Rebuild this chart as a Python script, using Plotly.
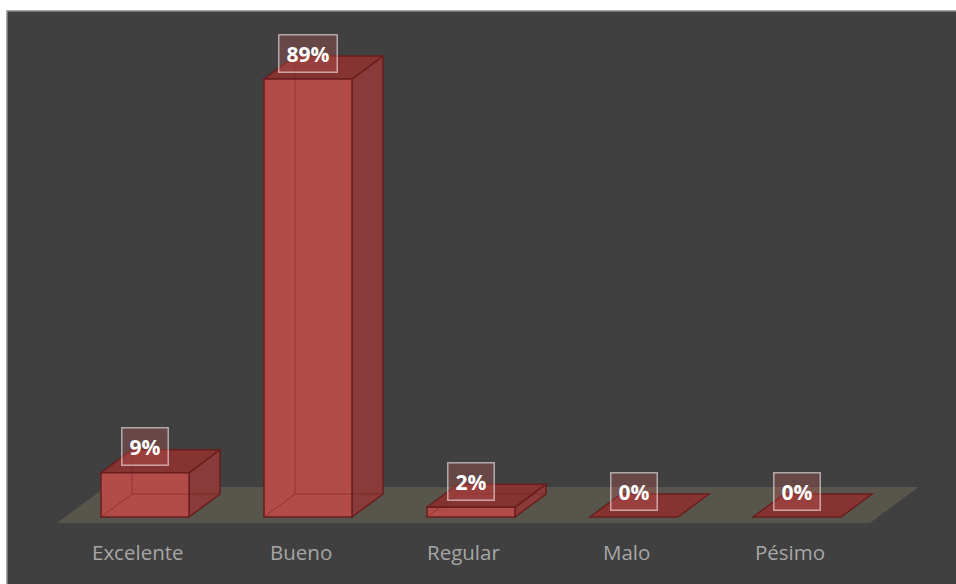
import plotly.graph_objects as go

categories = ["Excelente", "Bueno", "Regular", "Malo", "Pésimo"]
values = [9, 89, 2, 0, 0]
labels = ["9%", "89%", "2%", "0%", "0%"]

# style constants
HALF = 0.27      # half width of bar front (category units)
DX = 0.19        # depth offset x (category units)
DY = 4.67        # depth offset y (percent units)

FRONT = "rgb(178,76,72)"
SIDE = "rgb(138,58,56)"
TOP = "rgb(134,52,50)"
EDGE = "rgb(105,30,30)"
HIDDEN = "rgba(110,25,25,0.45)"

shapes = []

def path(pts):
    return "M " + " L ".join(f"{x},{y}" for x, y in pts) + " Z"

# floor
n = len(categories)
fl_front_y, fl_back_y = -1.22, 6.1
fl_x0, fl_x1 = -0.54, (n - 1) + 0.448
fl_shift = (fl_back_y - fl_front_y) / DY * DX
shapes.append(dict(type="path", xref="x", yref="y", layer="above",
                   path=path([(fl_x0, fl_front_y), (fl_x1, fl_front_y),
                              (fl_x1 + fl_shift, fl_back_y), (fl_x0 + fl_shift, fl_back_y)]),
                   fillcolor="rgb(88,85,76)", line=dict(width=0)))

for i, v in enumerate(values):
    xl, xr = i - HALF, i + HALF
    if v > 0:
        # side face
        shapes.append(dict(type="path", xref="x", yref="y", layer="above",
                           path=path([(xr, 0), (xr + DX, DY), (xr + DX, v + DY), (xr, v)]),
                           fillcolor=SIDE, line=dict(color=EDGE, width=1.5)))
    # top face
    shapes.append(dict(type="path", xref="x", yref="y", layer="above",
                       path=path([(xl, v), (xr, v), (xr + DX, v + DY), (xl + DX, v + DY)]),
                       fillcolor=TOP, line=dict(color=EDGE, width=1.5)))
    if v > 0:
        # front face
        shapes.append(dict(type="path", xref="x", yref="y", layer="above",
                           path=path([(xl, 0), (xr, 0), (xr, v), (xl, v)]),
                           fillcolor=FRONT, line=dict(color=EDGE, width=1.5)))
        # hidden edges visible through the translucent bar
        shapes.append(dict(type="path", xref="x", yref="y", layer="above",
                           path=f"M {xl},{0} L {xl + DX},{DY} L {xl + DX},{v + DY} M {xl + DX},{DY} L {xr + DX},{DY}",
                           line=dict(color=HIDDEN, width=1)))

# panel border
shapes.append(dict(type="rect", xref="paper", yref="paper", x0=0, x1=1.2, y0=-0.2, y1=1,
                   line=dict(color="rgb(140,140,140)", width=1.5), fillcolor="rgba(0,0,0,0)"))

annotations = []
for i, (v, lab) in enumerate(zip(values, labels)):
    annotations.append(dict(x=i, y=v, xref="x", yref="y", text=f"<b>{lab}</b>",
                            showarrow=False, yanchor="middle", xanchor="center", yshift=26,
                            font=dict(family="Open Sans", size=21, color="white"),
                            bgcolor="rgba(200,90,90,0.30)", bordercolor="rgba(255,255,255,0.55)",
                            borderwidth=1.5, borderpad=7, height=22))
for i, c in enumerate(categories):
    annotations.append(dict(x=i - 0.043, y=-7.11, xref="x", yref="y", text=c, showarrow=False,
                            xanchor="center", yanchor="middle",
                            font=dict(family="Open Sans", size=20.5, color="rgb(166,166,166)")))

fig = go.Figure()
fig.add_trace(go.Scatter(x=[0], y=[0], mode="markers", marker=dict(opacity=0), hoverinfo="skip",
                         showlegend=False))
fig.update_layout(
    width=956, height=584,
    margin=dict(l=7, t=11, r=0, b=0),
    paper_bgcolor="white", plot_bgcolor="rgb(64,64,64)",
    xaxis=dict(range=[-0.8466, 4.9755], visible=False, fixedrange=True),
    yaxis=dict(range=[-13.61, 102.82], visible=False, fixedrange=True),
    shapes=shapes, annotations=annotations, showlegend=False,
)
fig.write_html("out.html", config={"displayModeBar": False},
               post_script="document.body.style.margin='0';document.body.style.overflow='hidden';")
